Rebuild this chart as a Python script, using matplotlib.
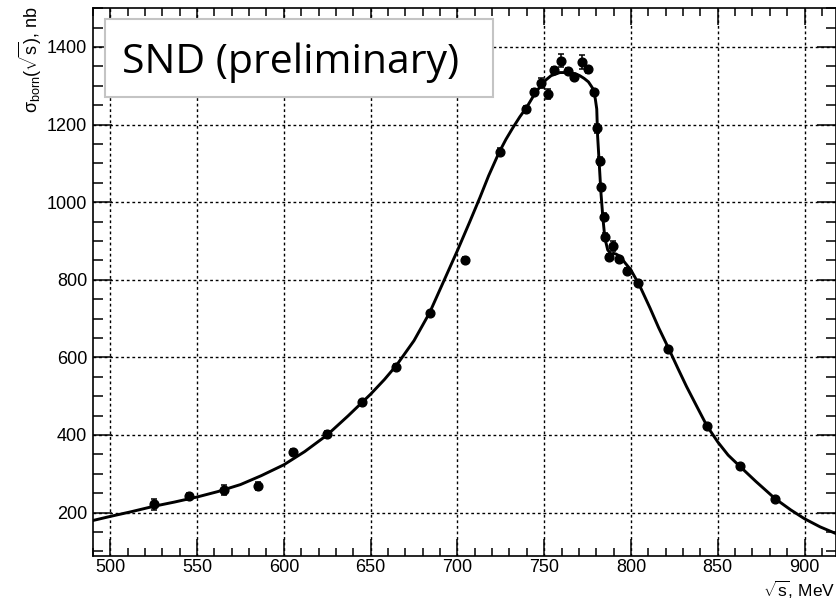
"""SND preliminary: Born cross section of e+e- -> pi+pi- vs sqrt(s).

Points read off the published figure (rho/omega region), curve is the
fit line traced by eye at the same scale.
"""
import matplotlib
matplotlib.use("Agg")
import matplotlib.pyplot as plt
from matplotlib.patches import Rectangle
from matplotlib.ticker import MultipleLocator

# ---- data -----------------------------------------------------------------
E_pts = [525.3, 545.5, 565.7, 585.4, 605.2, 624.8, 645.0, 664.7, 684.3,
         704.5, 724.3, 739.5, 744.2, 748.1, 752.0, 755.8, 759.6, 763.5,
         767.2, 771.7, 775.5, 779.0, 780.6, 781.9, 782.9, 784.2, 785.1,
         787.2, 789.8, 793.3, 798.0, 804.0, 821.6, 843.7, 862.9, 883.0]
sigma_pts = [221, 242, 258, 269, 357, 402, 484, 576, 714,
             851, 1130, 1241, 1283, 1307, 1278, 1341, 1365, 1339,
             1323, 1361, 1342, 1284, 1190, 1107, 1040, 962, 911,
             859, 886, 853, 822, 792, 622, 422, 319, 234]
sigma_err = [14, 9, 13, 10, 7, 9, 7, 7, 6,
             8, 9, 7, 8, 13, 13, 8, 16, 8,
             8, 17, 10, 8, 12, 10, 8, 9, 9,
             8, 13, 7, 7, 7, 6, 6, 5, 5]

# fit curve, traced
E_fit = [490.5, 500, 512, 525, 537, 550, 562, 575, 587, 600, 612, 625,
         637, 650, 658, 665, 675, 684, 692, 700, 707, 713, 718, 724, 728,
         732, 736, 740, 744, 748, 751, 754, 759, 764, 768, 770.5, 773,
         775.5, 777, 778, 779, 779.5, 780.3, 780.8, 781.7, 782.7, 783.9,
         785, 786.6, 788.5, 790, 791.5, 793.8, 796.7, 800, 805, 811, 816,
         821.6, 827, 832, 838, 843.7, 850, 856, 863, 872, 883, 892, 900,
         909, 918]
sigma_fit = [180, 190, 202, 216, 227, 240, 254, 272, 295, 323, 357, 400,
             449, 505, 543, 580, 643, 715, 795, 875, 948, 1012, 1068, 1128,
             1162, 1192, 1220, 1245, 1275, 1300, 1315, 1326, 1334, 1334,
             1331, 1326, 1319, 1310, 1300, 1293, 1278, 1265, 1240, 1170,
             1102, 1025, 956, 907, 877, 866, 868, 866, 860, 843, 825, 785,
             727, 676, 624, 572, 525, 473, 424, 382, 348, 318, 280, 236,
             207, 184, 163, 146]

x_ticks = [500, 550, 600, 650, 700, 750, 800, 850, 900]
y_ticks = [200, 400, 600, 800, 1000, 1200, 1400]


def main():
    plt.rcParams['font.family'] = ['Liberation Sans', 'DejaVu Sans']
    plt.rcParams['mathtext.fontset'] = 'custom'
    plt.rcParams['mathtext.rm'] = 'Liberation Sans'
    plt.rcParams['mathtext.it'] = 'Liberation Sans'

    fig = plt.figure(figsize=(8.37, 6.04), dpi=100)
    ax = fig.add_axes([0.111, 0.0795, 0.8875, 0.907])

    ax.plot(E_fit, sigma_fit, color='black', lw=2.1, zorder=3,
            solid_joinstyle='round')
    ax.errorbar(E_pts, sigma_pts, yerr=sigma_err, fmt='o', color='black',
                ms=6.3, elinewidth=1.1, capsize=2.5, capthick=1.1, zorder=4)

    ax.set_xlim(490, 918)
    ax.set_ylim(88, 1500)
    ax.set_xticks(x_ticks)
    ax.set_yticks(y_ticks)
    ax.xaxis.set_minor_locator(MultipleLocator(10))
    ax.yaxis.set_minor_locator(MultipleLocator(50))
    ax.tick_params(which='both', direction='in', top=True, right=True,
                   labelsize=13, width=1.1)
    ax.tick_params(axis='x', which='major', length=12, pad=2)
    ax.tick_params(axis='x', which='minor', length=6)
    ax.tick_params(axis='y', which='major', length=14, pad=4)
    ax.tick_params(axis='y', which='minor', length=7)
    for sp in ax.spines.values():
        sp.set_linewidth(1.2)

    ax.grid(True, which='major', color='black', lw=1.0,
            linestyle=(0, (2, 2)))
    ax.set_axisbelow(True)

    # ---- labels, ROOT style: at the ends of the axes -----------------------
    fig.text(0.036, 0.99, r'$\sigma_{\rm born}(\sqrt{\rm s})$, nb',
             rotation=90, ha='center', va='top', fontsize=13)
    fig.text(0.998, 0.012, r'$\sqrt{\rm s}$, MeV', ha='right',
             va='baseline', fontsize=12.5)

    # ---- title box ---------------------------------------------------------
    fig.add_artist(Rectangle((0.1254, 0.8394), 0.4636, 0.1291,
                             transform=fig.transFigure, facecolor='white',
                             edgecolor='#c4c4c4', lw=1.5, zorder=10))
    fig.text(0.146, 0.879, 'SND (preliminary)', family='Open Sans',
             fontsize=29.5, ha='left', va='baseline', zorder=11)

    fig.savefig('out.png', dpi=100)


if __name__ == '__main__':
    main()
